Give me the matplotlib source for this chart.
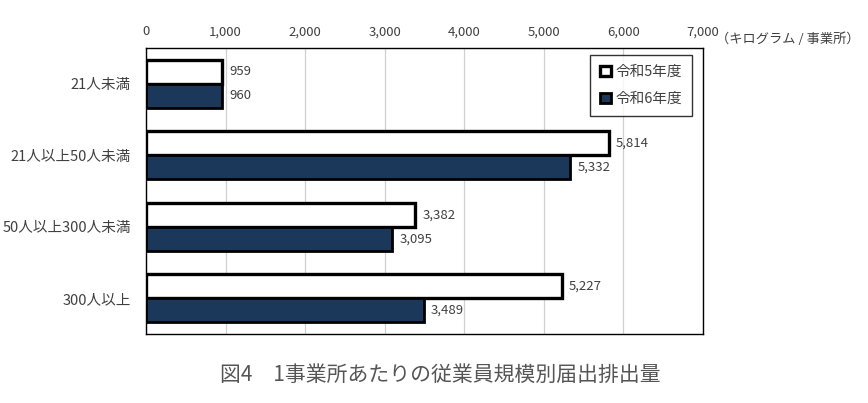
import matplotlib
matplotlib.use('Agg')
import numpy as np
import matplotlib.pyplot as plt

plt.rcParams['font.family'] = ['Noto Sans CJK JP', 'DejaVu Sans']

categories = ['21人未満', '21人以上50人未満', '50人以上300人未満', '300人以上']
r5_values = [959, 5814, 3382, 5227]
r6_values = [960, 5332, 3095, 3489]
series_names = ['令和5年度', '令和6年度']
x_ticks = [0, 1000, 2000, 3000, 4000, 5000, 6000, 7000]
unit_label = '（キログラム / 事業所）'
title = '図4　1事業所あたりの従業員規模別届出排出量'

navy = '#1b375a'
text_col = '#404040'

fig = plt.figure(figsize=(8.68, 4.03), dpi=100)
ax = fig.add_axes([0.1682, 0.1712, 0.6417, 0.7097])

y = np.arange(len(categories))
h = 0.335
ax.barh(y - h / 2, r5_values, height=h, color='white', edgecolor='black',
        linewidth=2.4, label=series_names[0], zorder=3)
ax.barh(y + h / 2, r6_values, height=h, color=navy, edgecolor='black',
        linewidth=2.0, label=series_names[1], zorder=3)

for i in range(len(categories)):
    ax.text(r5_values[i] + 90, y[i] - h / 2, format(r5_values[i], ','),
            va='center', ha='left', fontsize=9.5, color=text_col)
    ax.text(r6_values[i] + 90, y[i] + h / 2, format(r6_values[i], ','),
            va='center', ha='left', fontsize=9.5, color=text_col)

ax.set_xlim(0, 7000)
ax.set_ylim(3.5, -0.5)
ax.set_xticks(x_ticks)
ax.set_xticklabels([format(v, ',') for v in x_ticks], fontsize=9.5, color=text_col)
ax.xaxis.tick_top()
ax.tick_params(axis='x', length=0, pad=7)
ax.set_yticks(y)
ax.set_yticklabels(categories, fontsize=10.5, color=text_col)
ax.tick_params(axis='y', length=0, pad=11)
ax.grid(axis='x', color='#d0d0d0', linewidth=0.9, zorder=0)
for s in ax.spines.values():
    s.set_color('black')
    s.set_linewidth(1.0)

ax.text((716 - 146) / 557, (334 - 39) / 286, unit_label, transform=ax.transAxes,
        ha='left', va='center', fontsize=9.5, color=text_col)

leg = ax.legend(loc='upper right', bbox_to_anchor=(0.98, 0.976), fontsize=10.5,
                frameon=True, fancybox=False, edgecolor='black',
                handlelength=0.7, handleheight=0.7, handletextpad=0.3,
                labelspacing=0.9, borderpad=0.7, borderaxespad=0)
leg.get_frame().set_linewidth(1.0)
for t in leg.get_texts():
    t.set_color(text_col)

fig.text(440 / 868, 1 - 375 / 403, title, ha='center', va='center',
         fontsize=15, color='#555555')

fig.savefig('out.png', dpi=100)
